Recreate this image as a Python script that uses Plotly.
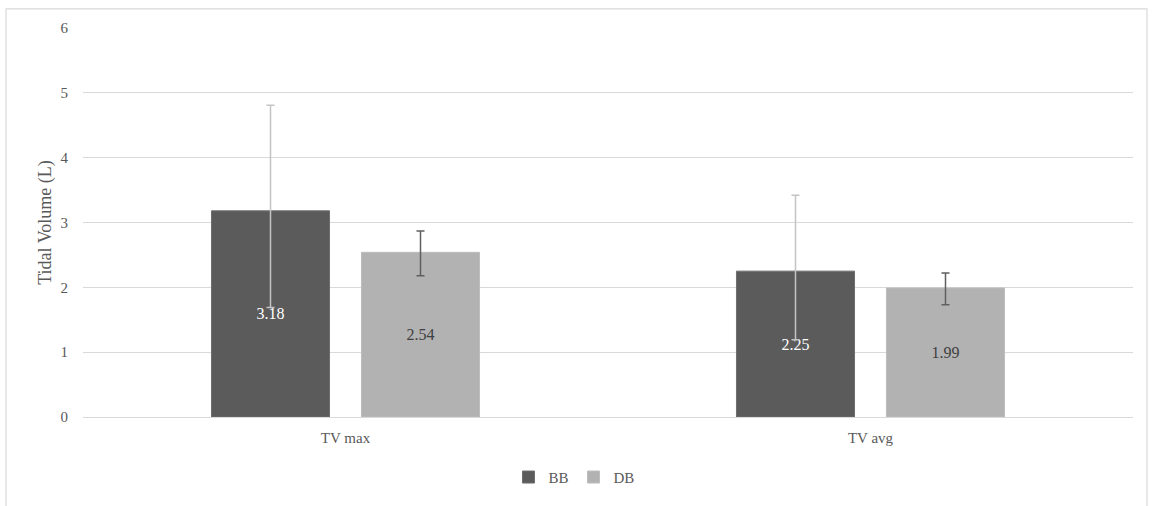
import plotly.graph_objects as go

categories = ["TV max", "TV avg"]
bb_values = [3.18, 2.25]
db_values = [2.54, 1.99]
bb_err_plus = [1.63, 1.17]
bb_err_minus = [1.49, 1.06]
db_err_plus = [0.33, 0.23]
db_err_minus = [0.36, 0.26]
y_ticks = [0, 1, 2, 3, 4, 5, 6]

font_family = "Liberation Serif"

fig = go.Figure()
fig.add_trace(go.Bar(
    name="BB", x=categories, y=bb_values,
    marker=dict(color="#5b5b5b", line=dict(color="#6e6e6e", width=1)),
    text=[f"{v:.2f}" for v in bb_values], textposition="inside",
    insidetextanchor="middle",
    textfont=dict(family=font_family, size=16, color="#ffffff"),
    error_y=dict(type="data", symmetric=False, array=bb_err_plus,
                 arrayminus=bb_err_minus, color="#c4c4c4", thickness=1.5, width=4),
))
fig.add_trace(go.Bar(
    name="DB", x=categories, y=db_values,
    marker=dict(color="#b2b2b2", line=dict(color="#bdbdbd", width=1)),
    text=[f"{v:.2f}" for v in db_values], textposition="inside",
    insidetextanchor="middle",
    textfont=dict(family=font_family, size=16, color="#404040"),
    error_y=dict(type="data", symmetric=False, array=db_err_plus,
                 arrayminus=db_err_minus, color="#5f5f5f", thickness=1.5, width=4),
))

fig.update_layout(
    width=1152, height=506,
    margin=dict(l=83, r=19, t=28, b=83),
    paper_bgcolor="white", plot_bgcolor="white",
    barmode="group", bargap=0.4286, bargroupgap=0.213,
    font=dict(family=font_family, color="#595959", size=14),
    showlegend=True,
    legend=dict(orientation="h", x=0.4676, xanchor="center", y=-0.155, yanchor="middle",
                font=dict(family=font_family, size=15, color="#595959"),
                itemwidth=30, traceorder="normal"),
)
fig.update_yaxes(
    range=[0, 6], tickvals=y_ticks, showgrid=True, gridcolor="#d9d9d9", gridwidth=1.3,
    zeroline=True, zerolinecolor="#d9d9d9", zerolinewidth=1.3,
    showline=False, ticklabelstandoff=14,
    tickfont=dict(family=font_family, size=15, color="#595959"),
    title=dict(text="Tidal Volume (L)", standoff=4,
               font=dict(family=font_family, size=18, color="#595959")),
)
fig.update_xaxes(
    showgrid=False, showline=False, ticklabelstandoff=10,
    tickfont=dict(family=font_family, size=15, color="#595959"),
)
fig.add_shape(type="rect", xref="paper", yref="paper",
              x0=(6 - 83) / 1050, x1=(1147 - 83) / 1050,
              y0=(421 - 520) / 395, y1=(421 - 6.5) / 395,
              line=dict(color="#d9d9d9", width=1.2), layer="below")

fig.write_html("out.html", config={"displayModeBar": False},
               post_script="document.body.style.margin='0';document.body.style.overflow='hidden';")
